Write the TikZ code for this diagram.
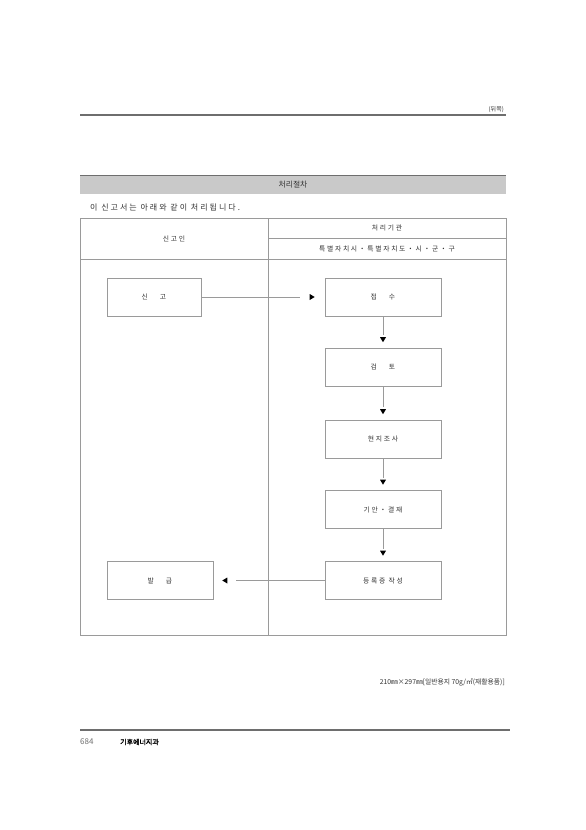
\documentclass[tikz,border=0pt]{standalone}
\usepackage{fontspec}
\setmainfont{Noto Sans CJK KR}
\newfontfamily\kr{Noto Sans CJK KR}
\newfontfamily\krsp[LetterSpace=25]{Noto Sans CJK KR}
\newfontfamily\krb[FakeBold=1.5]{Noto Sans CJK KR}
\usetikzlibrary{calc}
\definecolor{rulegray}{HTML}{6E6E6E}
\definecolor{linegray}{HTML}{9A9A9A}
\definecolor{bargray}{HTML}{C9C9C9}
\definecolor{txt}{HTML}{333333}
\begin{document}
\begin{tikzpicture}[x=1pt,y=-1pt,
  every node/.style={text=txt,inner sep=0pt},
  stepbox/.style={draw=linegray,line width=0.6pt,minimum width=116pt,minimum height=38pt,font=\krsp\fontsize{6.8}{8}\selectfont},
  tline/.style={draw=linegray,line width=0.6pt},
  conn/.style={draw=linegray,line width=0.6pt},
  small/.style={font=\krsp\fontsize{6.8}{8}\selectfont}]
\useasboundingbox (0,0) rectangle (586,830);
\fill[white] (0,0) rectangle (586,830);
% top
\node[anchor=east,font=\kr\fontsize{6}{7}\selectfont] (back) at (504,110) {(뒤쪽)};
\draw[rulegray,line width=2pt] (80,115) -- (506,115);
% header bar
\fill[bargray] (80,175) rectangle (506,194);
\draw[rulegray,line width=1.6pt] (80,175.5) -- (506,175.5);
\node[font=\kr\fontsize{7.8}{9}\selectfont] (title) at (293,185) {처리절차};
\node[anchor=west,font=\krsp\fontsize{8}{9}\selectfont] (intro) at (90,208) {이 신고서는 아래와 같이 처리됩니다.};
% table
\draw[tline] (80,218) rectangle (506,635);
\draw[tline] (268,218) -- (268,635);
\draw[tline] (80,259) -- (506,259);
\draw[tline] (268,238.5) -- (506,238.5);
\node[small] (applicant) at (174,238.5) {신고인};
\node[small] (agency) at (387,228) {처리기관};
\node[small] (local) at (387,248.5) {특별자치시・특별자치도・시・군・구};
% boxes
\node[stepbox,minimum width=94pt] (report) at (154,297) {신\hspace{12pt}고};
\node[stepbox] (receive) at (383,297) {접\hspace{12pt}수};
\node[stepbox] (review) at (383,367) {검\hspace{12pt}토};
\node[stepbox] (survey) at (383,439) {현지조사};
\node[stepbox] (approve) at (383,509.5) {기안・결재};
\node[stepbox] (cert) at (383,580.5) {등록증 작성};
\node[stepbox,minimum width=106pt] (issue) at (160,580.5) {발\hspace{12pt}급};
% connectors
\tikzset{
  vconn/.style={conn,shorten >=12.5pt},
  dtip/.pic={\fill[black] (0,0) -- (-3,-5) -- (3,-5) -- cycle;}}
\draw[conn,shorten >=25pt] (report) -- (receive);
\fill[black] ($(receive.west)+(-10,0)$) -- ++(-5,-3) -- ++(0,6) -- cycle;
\foreach \a/\b in {receive/review,review/survey,survey/approve,approve/cert}{
  \draw[vconn] (\a) -- (\b);
  \fill[black] ($(\b.north)+(0,-5.5)$) -- ++(-3,-5) -- ++(6,0) -- cycle;
}
\draw[conn,shorten >=23pt] (cert) -- (issue);
\fill[black] ($(issue.east)+(9,0)$) -- ++(5,-3) -- ++(0,6) -- cycle;
% footer
\node[anchor=east,font=\kr\fontsize{6.8}{8}\selectfont] (paper) at (505,682) {210㎜×297㎜[일반용지 70g/㎡(재활용품)]};
\draw[rulegray,line width=2pt] (80,730) -- (510,730);
\node[anchor=west,font=\kr\fontsize{8}{9}\selectfont,text=rulegray] (page) at (80,742) {684};
\node[anchor=west,font=\krb\fontsize{7}{9}\selectfont,text=black] (dept) at (120,742) {기후에너지과};
\end{tikzpicture}
\end{document}
